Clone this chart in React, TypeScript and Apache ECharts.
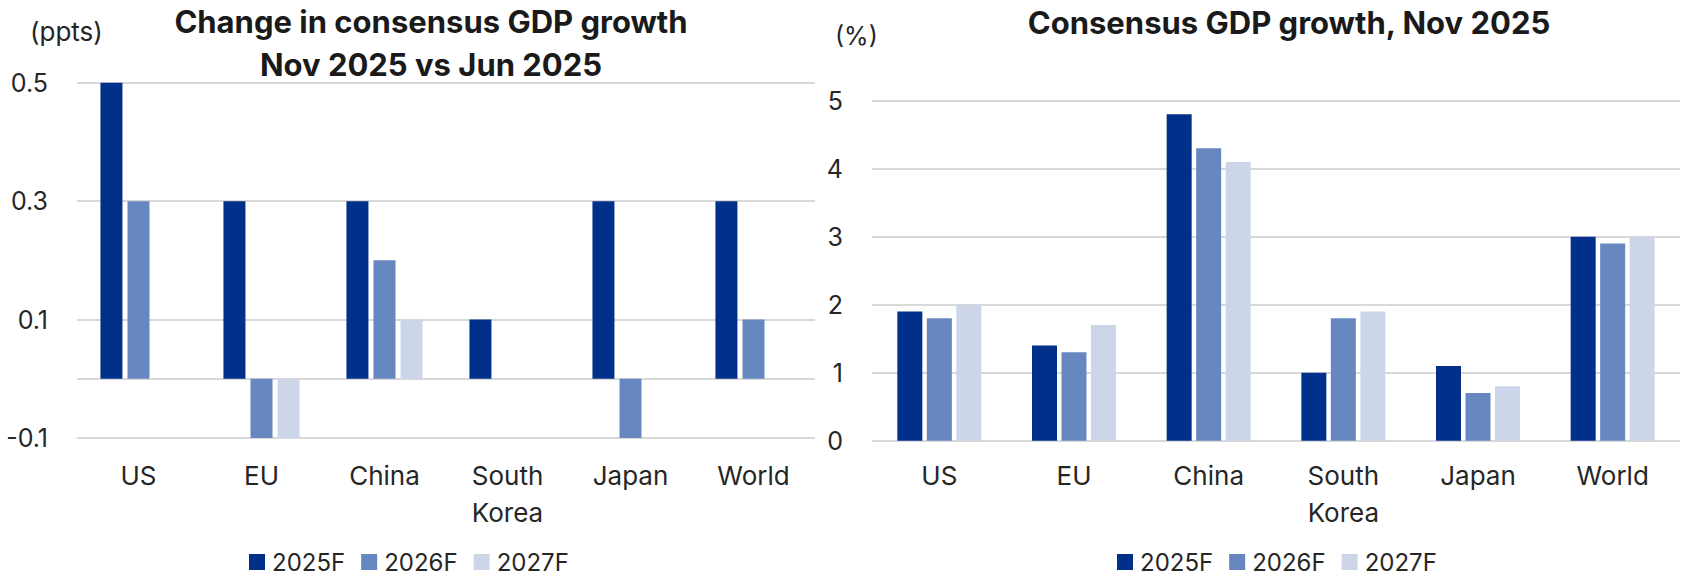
import React, { useEffect, useRef } from "react";
import * as echarts from "echarts";

// Categories and forecast years
const categories = ["US", "EU", "China", "South Korea", "Japan", "World"];
const years = ["2025F", "2026F", "2027F"];

// Change in consensus GDP growth, Nov 2025 vs Jun 2025 (ppts)
const change2025F = [0.5, 0.3, 0.3, 0.1, 0.3, 0.3];
const change2026F = [0.3, -0.1, 0.2, 0, -0.1, 0.1];
const change2027F = [0, -0.1, 0.1, 0, 0, 0];

// Consensus GDP growth, Nov 2025 (%)
const growth2025F = [1.9, 1.4, 4.8, 1.0, 1.1, 3.0];
const growth2026F = [1.8, 1.3, 4.3, 1.8, 0.7, 2.9];
const growth2027F = [2.0, 1.7, 4.1, 1.9, 0.8, 3.0];

// Value-axis ticks
const changeTicks = [-0.1, 0.1, 0.3, 0.5];
const growthTicks = [0, 1, 2, 3, 4, 5];

const COLORS = ["#00308A", "#6787C1", "#CDD6E9"];
const FONT = "Inter";
const TEXT = "#262626";
const GRID_LINE = "#d9d9d9";

export default function App() {
  const ref = useRef<HTMLDivElement>(null);

  useEffect(() => {
    if (!ref.current) return;
    const chart = echarts.init(ref.current, undefined, { renderer: "svg" });

    const catAxis = (gridIndex: number, margin: number) => ({
      type: "category",
      gridIndex,
      data: categories,
      axisLine: { show: false },
      axisTick: { show: false },
      axisLabel: {
        color: TEXT,
        fontFamily: FONT,
        fontSize: 26,
        lineHeight: 37,
        margin,
        interval: 0,
        formatter: (v: string) => v.replace(" ", "\n"),
      },
    });

    const valAxis = (gridIndex: number, ticks: number[], decimals: number) => ({
      type: "value",
      gridIndex,
      min: ticks[0],
      max: ticks[ticks.length - 1],
      interval: ticks[1] - ticks[0],
      axisLine: { show: false },
      axisTick: { show: false },
      splitLine: { lineStyle: { color: GRID_LINE, width: 2 } },
      axisLabel: {
        color: TEXT,
        fontFamily: FONT,
        fontSize: 25,
        margin: 29,
        formatter: (v: number) => v.toFixed(decimals),
      },
    });

    const changeData = [change2025F, change2026F, change2027F];
    const growthData = [growth2025F, growth2026F, growth2027F];

    const leftSeries = years.map((name, i) => ({
      name,
      type: "bar",
      xAxisIndex: 0,
      yAxisIndex: 0,
      data: changeData[i],
      barWidth: 22,
      barGap: "23%",
      itemStyle: { color: COLORS[i] },
      ...(i === 0
        ? {
            markLine: {
              silent: true,
              symbol: ["none", "none"],
              label: { show: false },
              lineStyle: { color: GRID_LINE, width: 2, type: "solid" },
              data: [{ yAxis: 0 }],
              z: 1,
            },
          }
        : {}),
    }));

    const rightSeries = years.map((name, i) => ({
      name,
      type: "bar",
      xAxisIndex: 1,
      yAxisIndex: 1,
      data: growthData[i],
      barWidth: 25,
      barGap: "18%",
      itemStyle: { color: COLORS[i] },
    }));

    const legendBase = {
      data: years,
      icon: "rect",
      itemWidth: 16,
      itemHeight: 16,
      itemGap: 16,
      padding: 0,
      top: 550,
      textStyle: {
        color: TEXT,
        fontFamily: FONT,
        fontSize: 24,
        padding: [0, 0, 0, 2],
      },
    };

    chart.setOption({
      animation: false,
      color: COLORS,
      textStyle: { fontFamily: FONT },
      grid: [
        { left: 77, right: 869, top: 82.7, bottom: 137 },
        { left: 872, right: 4, top: 100.7, bottom: 134.3 },
      ],
      xAxis: [catAxis(0, 19), catAxis(1, 16)],
      yAxis: [valAxis(0, changeTicks, 1), valAxis(1, growthTicks, 0)],
      legend: [
        { ...legendBase, left: 249 },
        { ...legendBase, left: 1117 },
      ],
      graphic: [
        {
          type: "text",
          x: 431,
          y: 43,
          style: {
            text: "Change in consensus GDP growth\nNov 2025 vs Jun 2025",
            font: `bold 31px ${FONT}`,
            lineHeight: 43,
            fill: "#1a1a1a",
            textAlign: "center",
            textVerticalAlign: "middle",
          },
        },
        {
          type: "text",
          x: 1289,
          y: 22,
          style: {
            text: "Consensus GDP growth, Nov 2025",
            font: `bold 31px ${FONT}`,
            fill: "#1a1a1a",
            textAlign: "center",
            textVerticalAlign: "middle",
          },
        },
        {
          type: "text",
          x: 30,
          y: 31,
          style: {
            text: "(ppts)",
            font: `26px ${FONT}`,
            fill: TEXT,
            textAlign: "left",
            textVerticalAlign: "middle",
          },
        },
        {
          type: "text",
          x: 835,
          y: 36,
          style: {
            text: "(%)",
            font: `25px ${FONT}`,
            fill: TEXT,
            textAlign: "left",
            textVerticalAlign: "middle",
          },
        },
      ],
      series: [...leftSeries, ...rightSeries],
    });

    return () => chart.dispose();
  }, []);

  return (
    <div
      ref={ref}
      style={{ position: "fixed", left: 0, top: 0, width: 1684, height: 575, background: "#fff" }}
    />
  );
}
